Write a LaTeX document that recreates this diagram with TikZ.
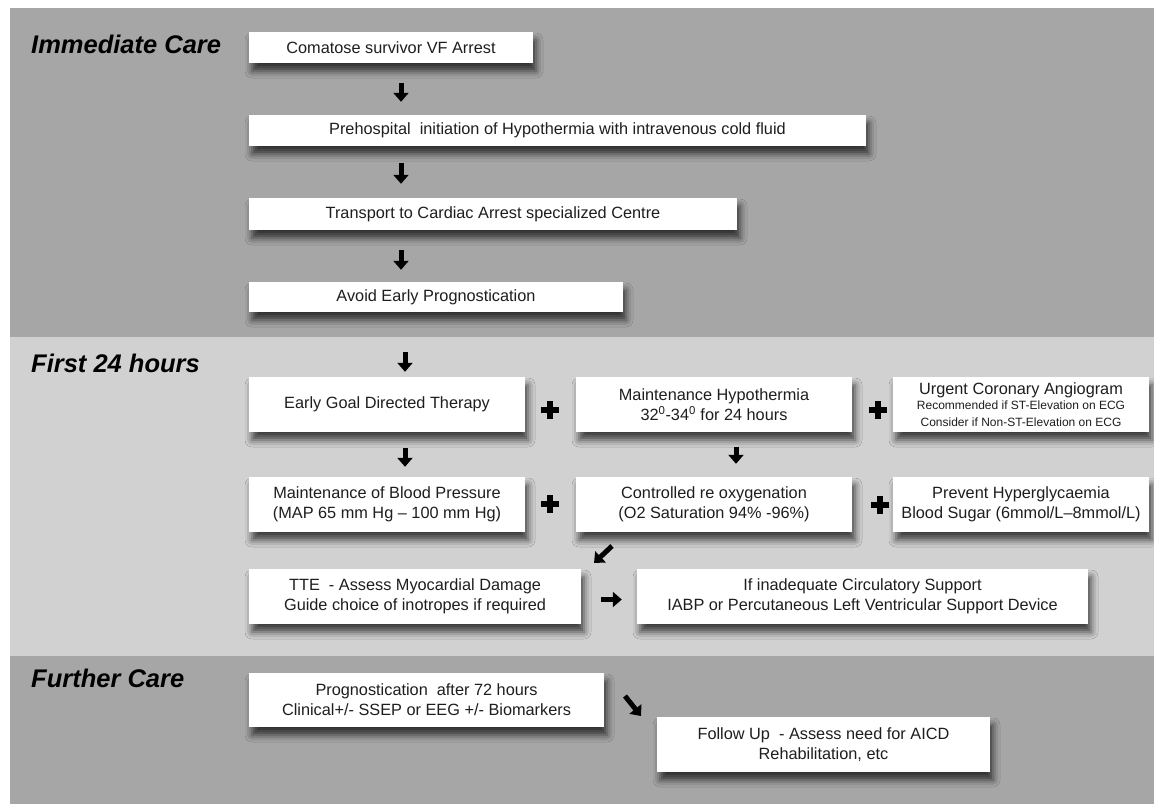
\documentclass[tikz,border=0pt]{standalone}
\usepackage{fontspec}
\setmainfont{Liberation Sans}
\usetikzlibrary{arrows.meta,shadows.blur}
\definecolor{darkpanel}{HTML}{A6A6A6}
\definecolor{lightpanel}{HTML}{D1D1D1}
\definecolor{txt}{HTML}{1E1E1E}
\newcommand\smalltxt{\fontsize{12}{14}\selectfont}
\tikzset{
  box/.style={fill=white, inner sep=0pt, align=center, text=txt,
    font=\fontsize{16.3}{20}\selectfont,
    blur shadow={shadow xshift=3pt, shadow yshift=-8pt, shadow blur radius=7pt, shadow opacity=70}},
  title/.style={anchor=base west, inner sep=0pt, text=black,
    font=\fontsize{25.5}{30}\selectfont\bfseries\itshape},
  bigarr/.style={line width=5pt, -{Triangle[width=15pt,length=9pt]}, black},
  plusnode/.style={minimum size=17pt, inner sep=0pt},
  plusline/.style={line width=5.5pt, black}
}
\begin{document}
\begin{tikzpicture}[x=1pt,y=-1pt]
\useasboundingbox (0,0) rectangle (1154,804);
\fill[white] (0,0) rectangle (1154,804);
% panels
\fill[darkpanel] (10,8) rectangle (1154,337);
\fill[lightpanel] (10,337) rectangle (1154,656);
\fill[darkpanel] (10,656) rectangle (1154,804);
% titles
\node[title] (t-imm) at (31,53) {Immediate Care};
\node[title] (t-24) at (31,372) {First 24 hours};
\node[title] (t-fur) at (31,687) {Further Care};
% Immediate care boxes
\node[box, minimum width=284pt, minimum height=31pt] (c1) at (391,47.5) {Comatose survivor VF Arrest};
\node[box, minimum width=617pt, minimum height=31pt] (c2) at (557.5,130.5) {Prehospital\ \ initiation of Hypothermia with intravenous cold fluid};
\node[box, minimum width=488pt, minimum height=32pt] (c3) at (493,214) {Transport to Cardiac Arrest specialized Centre};
\node[box, minimum width=374pt, minimum height=30pt] (c4) at (436,297) {Avoid Early Prognostication};
% First 24 hours boxes
\node[box, minimum width=276pt, minimum height=55pt] (e1) at (387,404.5) {Early Goal Directed Therapy};
\node[box, minimum width=276pt, minimum height=55pt] (e2) at (714,404.5) {Maintenance Hypothermia\\32\textsuperscript{0}-34\textsuperscript{0} for 24 hours};
\node[box, minimum width=256pt, minimum height=55pt] (e3) at (1021,404.5) {Urgent Coronary Angiogram\\[-5pt]{\smalltxt Recommended if ST-Elevation on ECG}\\[-3pt]{\smalltxt Consider if Non-ST-Elevation on ECG}};
\node[box, minimum width=276pt, minimum height=55pt] (r1) at (387,504.5) {Maintenance of Blood Pressure\\(MAP 65 mm Hg -- 100 mm Hg)};
\node[box, minimum width=276pt, minimum height=55pt] (r2) at (714,504.5) {Controlled re oxygenation\\(O2 Saturation 94\% -96\%)};
\node[box, minimum width=256pt, minimum height=55pt] (r3) at (1021,504.5) {Prevent Hyperglycaemia\\Blood Sugar (6mmol/L--8mmol/L)};
\node[box, minimum width=332pt, minimum height=55pt] (s1) at (415,596.5) {TTE\ \ - Assess Myocardial Damage\\Guide choice of inotropes if required};
\node[box, minimum width=451pt, minimum height=55pt] (s2) at (862.5,596.5) {If inadequate Circulatory Support\\IABP or Percutaneous Left Ventricular Support Device};
% Further care boxes
\node[box, minimum width=355pt, minimum height=54pt] (f1) at (426.5,700) {Prognostication\ \ after 72 hours\\Clinical+/- SSEP or EEG +/- Biomarkers};
\node[box, minimum width=333pt, minimum height=55pt] (f2) at (823.5,744.5) {Follow Up\ \ - Assess need for AICD\\Rehabilitation, etc};
% arrow columns
\coordinate (ax) at (401,0);
\coordinate (bx) at (405,0);
\coordinate (cx) at (736,0);
\draw[bigarr, shorten <=20pt, shorten >=13pt] (c1.south -| ax) -- (c2.north -| ax);
\draw[bigarr, shorten <=17pt, shorten >=14pt] (c2.south -| ax) -- (c3.north -| ax);
\draw[bigarr, shorten <=20pt, shorten >=12pt] (c3.south -| ax) -- (c4.north -| ax);
\draw[bigarr, shorten <=40pt, shorten >=5pt] (c4.south -| bx) -- (e1.north -| bx);
\draw[bigarr, shorten <=16pt, shorten >=10pt] (e1.south -| bx) -- (r1.north -| bx);
\draw[bigarr, shorten <=15pt, shorten >=13pt] (e2.south -| cx) -- (r2.north -| cx);
\draw[bigarr, shorten <=20pt, shorten >=15pt] ([yshift=-3pt]s1.east) -- ([yshift=-3pt]s2.west);
\coordinate (d1s) at (612,546);
\coordinate (d1e) at (594,563);
\draw[bigarr] (d1s) -- (d1e);
\coordinate (d2s) at (625,696);
\coordinate (d2e) at (641,716);
\draw[bigarr] (d2s) -- (d2e);
% plus signs
\node[plusnode] (p1) at (550,410) {};
\node[plusnode] (p2) at (878,410) {};
\node[plusnode] (p3) at (550,504) {};
\node[plusnode] (p4) at (880,505) {};
\foreach \p in {p1,p2,p3,p4}{
  \draw[plusline] (\p.west) -- (\p.east) (\p.north) -- (\p.south);
}
\end{tikzpicture}
\end{document}
